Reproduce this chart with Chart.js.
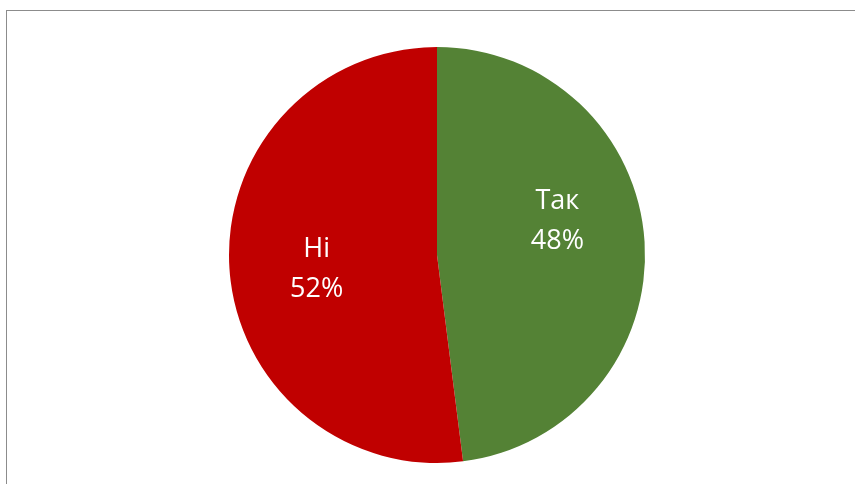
<!DOCTYPE html>
<html>
  <head>
    <meta charset="utf-8">
    <style>
      body { margin: 0; background: #fff; }
      #frame { position: absolute; left: 6px; top: 10px; width: 900px; height: 500px;
               border-left: 1.5px solid #8c8c8c; border-top: 1.5px solid #8c8c8c; }
      #holder { position: absolute; left: 0; top: 0; width: 855px; height: 484px; }
    </style>
  </head>
  <body>
    <div id="frame"></div>
    <div id="holder">
      <canvas id="chart-area" width="855" height="484"></canvas>
    </div>

    <script src="https://cdn.jsdelivr.net/npm/chart.js@4/dist/chart.umd.min.js"></script>
    <script>
      // data
      var categories = ['Так', 'Ні'];
      var shares = [48, 52];
      var sliceColors = ['#548235', '#C00000'];

      // draws "name / percent" inside each slice
      var sliceLabels = {
        id: 'sliceLabels',
        afterDatasetsDraw: function(chart) {
          var ctx = chart.ctx;
          var meta = chart.getDatasetMeta(0);
          var shift = [-26, 7]; // excel nudges its labels a bit
          ctx.save();
          ctx.fillStyle = '#ffffff';
          ctx.font = '27px "Open Sans"';
          ctx.textAlign = 'center';
          ctx.textBaseline = 'middle';
          meta.data.forEach(function(arc, i) {
            var p = arc.getProps(['x', 'y', 'startAngle', 'endAngle', 'outerRadius']);
            var mid = (p.startAngle + p.endAngle) / 2;
            var r = p.outerRadius * 0.58;
            var x = p.x + Math.cos(mid) * r;
            var y = p.y + Math.sin(mid) * r + shift[i];
            ctx.fillText(chart.data.labels[i], x, y - 20);
            ctx.fillText(shares[i] + '%', x, y + 20);
          });
          ctx.restore();
        }
      };

      var ctx = document.getElementById('chart-area').getContext('2d');
      var chart = new Chart(ctx, {
        type: 'pie',
        data: {
          labels: categories,
          datasets: [{
            data: shares,
            backgroundColor: sliceColors,
            borderWidth: 0,
            hoverOffset: 0,
            offset: 0
          }]
        },
        options: {
          responsive: false,
          animation: false,
          events: [],
          layout: { padding: { left: 229, right: 210, top: 47, bottom: 21 } },
          plugins: {
            legend: { display: false },
            tooltip: { enabled: false }
          }
        },
        plugins: [sliceLabels]
      });
    </script>
  </body>
</html>
